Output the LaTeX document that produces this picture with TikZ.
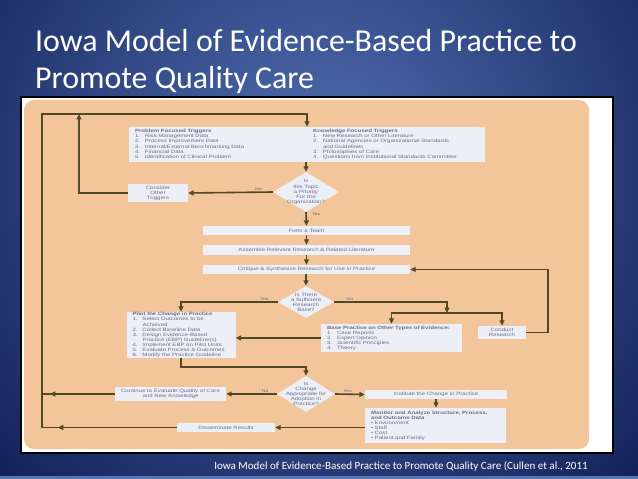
\documentclass[tikz,border=0pt]{standalone}
\usepackage{fontspec}
\setmainfont{Carlito}
\newfontfamily\chartfont[FakeStretch=1.3]{Liberation Sans}
\usetikzlibrary{arrows.meta,shapes.geometric,decorations.markings}
\definecolor{slidedark}{RGB}{18,32,88}
\definecolor{slidelight}{RGB}{82,112,178}
\definecolor{slidestrip}{RGB}{88,118,178}
\definecolor{peach}{RGB}{242,197,155}
\definecolor{boxfill}{RGB}{237,239,247}
\definecolor{flowline}{RGB}{82,72,36}
\definecolor{boxtext}{RGB}{105,109,135}
\newcommand\flowitem[2]{\makebox[10bp][l]{#1}#2}
\newcommand\tinyfont{\chartfont\fontsize{4.7}{5.1}\selectfont}

\begin{document}
\begin{tikzpicture}[x=1bp, y=-1bp,
    every node/.style={inner sep=0pt, text=boxtext, font=\tinyfont},
    box/.style={fill=boxfill, align=center},
    listbox/.style={fill=boxfill, align=left, inner xsep=6bp},
    ask/.style={diamond, fill=boxfill, inner sep=-8bp, align=center},
    flow/.style={draw=flowline, line width=1.6bp, -{Triangle[length=5.5bp, width=5bp]}},
    link/.style={draw=flowline, line width=1.6bp},
    midarrow/.style={postaction={decorate, decoration={markings,
        mark=at position #1 with {\arrow[flowline]{Triangle[length=5.5bp, width=5bp]}}}}},
    lbl/.style={font=\chartfont\fontsize{4}{4}\selectfont}]
    % slide background
    \clip (0,0) rectangle (638,479);
    \shade[inner color=slidelight, outer color=slidedark] (-130,-280) rectangle (770,620);
    \fill[slidestrip] (0,476) rectangle (638,479);
    \node[anchor=north west, text=white, font=\fontsize{32}{37}\selectfont, align=left] (ttl) at (35,29)
        {Iowa Model of Evidence-Based Practice to\\Promote Quality Care};
    \node[anchor=east, text=white, font=\fontsize{11.1}{12}\selectfont] (cap) at (588,466)
        {Iowa Model of Evidence-Based Practice to Promote Quality Care (Cullen et al., 2011};
    % scanned chart
    \fill[black] (20,96) rectangle (614,454);
    \fill[white] (22,98) rectangle (612,452);
    \fill[peach, rounded corners=10bp] (24,100) rectangle (589,449);

    \node[listbox, text width=344bp, minimum height=35bp] (trig) at (307,144.5) {%
        \begin{tabular}{@{}p{178bp}@{}l@{}}
        \textbf{Problem Focused Triggers} & \textbf{Knowledge Focused Triggers}\\
        \flowitem{1.}{Risk Management Data} & \flowitem{1.}{New Research or Other Literature}\\
        \flowitem{2.}{Process Improvement Data} & \flowitem{2.}{National Agencies or Organizational Standards}\\
        \flowitem{3.}{Internal/External Benchmarking Data} & \flowitem{}{and Guidelines}\\
        \flowitem{4.}{Financial Data} & \flowitem{3.}{Philosophies of Care}\\
        \flowitem{5.}{Identification of Clinical Problem} & \flowitem{4.}{Questions from Institutional Standards Committee}
        \end{tabular}};
    \node[ask, minimum width=66bp, minimum height=40bp] (prio) at (306,192) {Is\\this Topic\\a Priority\\For the\\Organization?};
    \node[box, minimum width=60bp, minimum height=18bp] (cons) at (158,193) {Consider\\Other\\Triggers};
    \node[box, minimum width=207bp, minimum height=9bp] (team) at (306.5,230.5) {Form a Team};
    \node[box, minimum width=207bp, minimum height=10bp] (lit) at (306.5,250) {Assemble Relevant Research \& Related Literature};
    \node[box, minimum width=207bp, minimum height=9bp] (crit) at (306.5,269.5) {Critique \& Synthesize Research for Use in Practice};
    \node[ask, minimum width=56bp, minimum height=32bp] (enough) at (306,302) {Is There\\a Sufficient\\Research\\Base?};
    \node[listbox, text width=97bp, minimum height=46bp] (pilot) at (181,335) {%
        \textbf{Pilot the Change in Practice}\\
        \flowitem{1.}{Select Outcomes to be}\\
        \flowitem{}{Achieved}\\
        \flowitem{2.}{Collect Baseline Data}\\
        \flowitem{3.}{Design Evidence-Based}\\
        \flowitem{}{Practice (EBP) Guideline(s)}\\
        \flowitem{4.}{Implement EBP on Pilot Units}\\
        \flowitem{5.}{Evaluate Process \& Outcomes}\\
        \flowitem{6.}{Modify the Practice Guideline}};
    \node[listbox, text width=129bp, minimum height=28bp] (other) at (391.5,338) {%
        \textbf{Base Practice on Other Types of Evidence:}\\
        \flowitem{1.}{Case Reports}\\
        \flowitem{2.}{Expert Opinion}\\
        \flowitem{3.}{Scientific Principles}\\
        \flowitem{4.}{Theory}};
    \node[box, minimum width=48bp, minimum height=13bp] (res) at (502,332.5) {Conduct\\Research};
    \node[ask, minimum width=58bp, minimum height=36bp] (adopt) at (306,394) {Is\\Change\\Appropriate for\\Adoption in\\Practice?};
    \node[box, minimum width=111bp, minimum height=14bp] (eval) at (170.5,394) {Continue to Evaluate Quality of Care\\and New Knowledge};
    \node[box, minimum width=142bp, minimum height=9bp] (inst) at (436,394.5) {Institute the Change in Practice};
    \node[listbox, text width=129bp, minimum height=35bp] (mon) at (435.5,425.5) {%
        \textbf{Monitor and Analyze Structure, Process,}\\
        \textbf{and Outcome Data}\\
        \textbullet\ Environment\\
        \textbullet\ Staff\\
        \textbullet\ Cost\\
        \textbullet\ Patient and Family};
    \node[box, minimum width=98bp, minimum height=9bp] (diss) at (226,427.5) {Disseminate Results};

    \coordinate (lb) at (42,427.5);
    \coordinate (lt) at (42,114);
    \coordinate (ct) at (79,114);
    \coordinate (split) at (447,313);
    \coordinate (rr) at (548,332.5);

    \draw[flow, midarrow=119bp] (diss.west) -- (lb) -- (lt) -- (lt -| trig.north) -- (trig.north);
    \draw[link, midarrow=65bp] (eval.west) -- (eval.west -| lb);
    \draw[flow] (cons.west) -- (cons.west -| ct) -- (ct);
    \draw[flow] (trig.south -| prio.north) -- (prio.north);
    \draw[flow] (prio.west) -- (cons.east) node[lbl, above=1bp, pos=0.17] {No};
    \draw[flow] (prio.south) -- (team.north) node[lbl, right=5bp, pos=0.15] {Yes};
    \draw[flow] (team.south) -- (lit.north);
    \draw[flow] (lit.south) -- (crit.north);
    \draw[flow] (crit.south -| enough.north) -- (enough.north);
    \draw[flow] (enough.west) -| (pilot.north) node[lbl, above=1bp, pos=0.07] {Yes};
    \draw[flow] (enough.east) -| (split) node[lbl, above=1bp, pos=0.07] {No};
    \draw[flow] (split) -| (other.north);
    \draw[flow] (split) -| (res.north);
    \draw[flow] (res.east) -- (rr) |- (crit.east);
    \draw[flow] (other.west) -- (other.west -| pilot.east);
    \draw[flow] (pilot.south) -- ++(0,9) -| (adopt.north);
    \draw[flow] (adopt.west) -- (eval.east) node[lbl, above=1bp, pos=0.23] {No};
    \draw[flow] (adopt.east) -- (inst.west) node[lbl, above=1bp, pos=0.42] {Yes};
    \draw[flow] (inst.south) -- (inst.south |- mon.north);
    \draw[flow] (diss.east -| mon.west) -- (diss.east);
\end{tikzpicture}
\end{document}
